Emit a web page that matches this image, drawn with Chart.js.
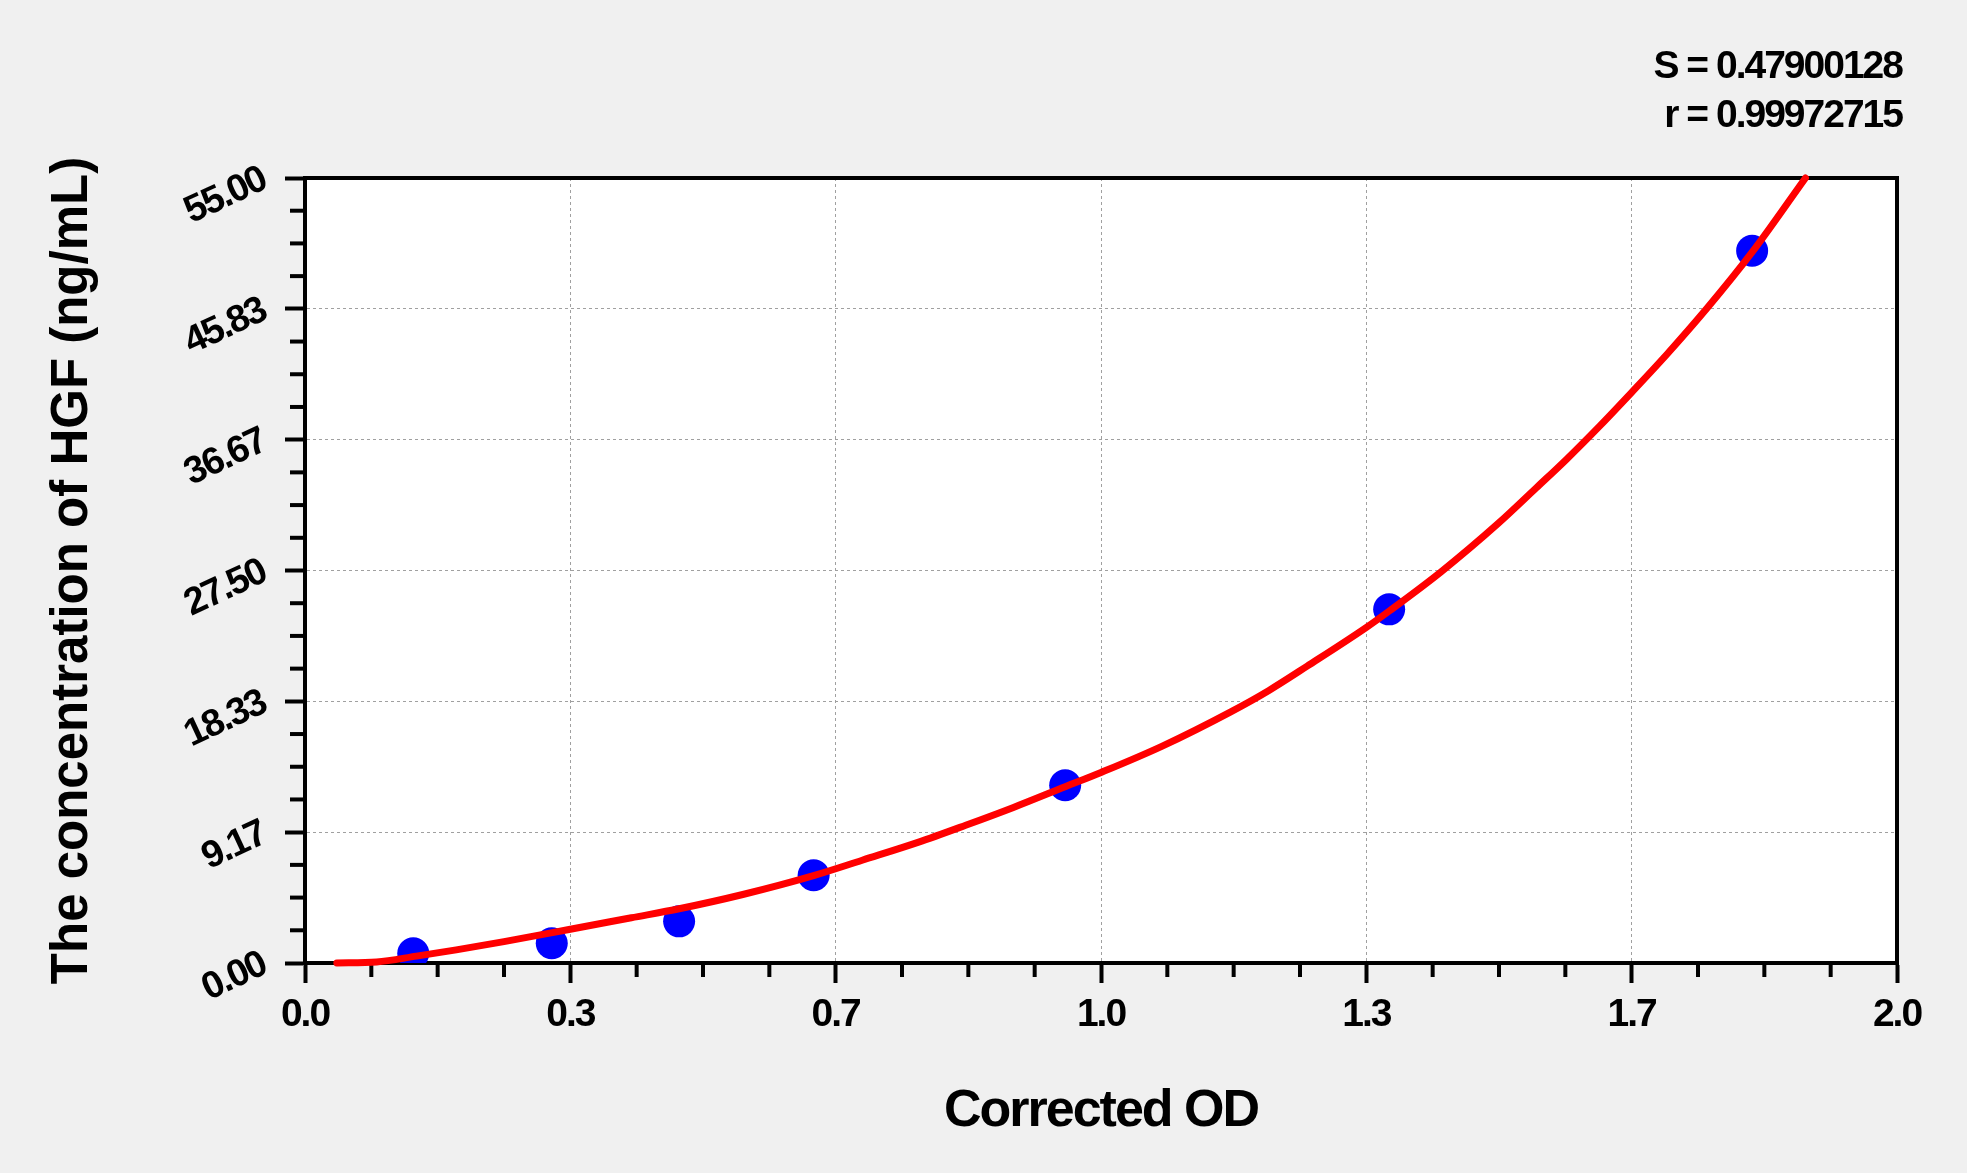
<!DOCTYPE html>
<html>
<head>
<meta charset="utf-8">
<script src="https://cdn.jsdelivr.net/npm/chart.js@4.4.0/dist/chart.umd.min.js"></script>
<style>
  html, body { margin: 0; padding: 0; background: #f0f0f0; }
  #wrap { width: 1967px; height: 1173px; position: relative; }
</style>
</head>
<body>
<div id="wrap"><canvas id="chart"></canvas></div>
<script>
// Standards (corrected OD vs concentration)
const stdOD = [0.136, 0.310, 0.470, 0.639, 0.955, 1.362, 1.818];
const stdConc = [0.68, 1.38, 2.92, 6.15, 12.45, 24.78, 49.9];

// Fitted curve
const fitOD = [0.04, 0.09, 0.14, 0.19, 0.25, 0.33, 0.41, 0.47, 0.55, 0.64, 0.70, 0.77, 0.83, 0.89, 0.955, 1.00, 1.077, 1.163, 1.211, 1.259, 1.333, 1.363, 1.427, 1.499, 1.547, 1.585, 1.627, 1.667, 1.711, 1.761, 1.818, 1.885];
const fitConc = [0.0, 0.07, 0.48, 0.92, 1.5, 2.33, 3.17, 3.8, 4.8, 6.14, 7.2, 8.45, 9.65, 10.9, 12.35, 13.35, 15.2, 17.6, 19.1, 20.8, 23.5, 24.7, 27.4, 30.8, 33.3, 35.3, 37.65, 40.0, 42.65, 45.85, 49.8, 55.0];

const xTickValues = [0, 0.3333, 0.6667, 1.0, 1.3333, 1.6667, 2.0];
const xTickLabels = ['0.0', '0.3', '0.7', '1.0', '1.3', '1.7', '2.0'];
const yTickValues = [0, 9.1667, 18.3333, 27.5, 36.6667, 45.8333, 55];
const yTickLabels = ['0.00', '9.17', '18.33', '27.50', '36.67', '45.83', '55.00'];
const yTitle = 'The concentration of HGF (ng/mL)';
const fitStats = ['S = 0.47900128', 'r = 0.99972715'];

const FONT = 'Arial, "Liberation Sans", sans-serif';

// background, plot frame, minor ticks, y title and the fit statistics
const frame = {
    id: 'frame',
    beforeDraw(chart) {
        const { ctx, chartArea: a } = chart;
        ctx.save();
        ctx.fillStyle = '#f0f0f0';
        ctx.fillRect(0, 0, chart.width, chart.height);
        ctx.fillStyle = '#ffffff';
        ctx.fillRect(a.left, a.top, a.right - a.left, a.bottom - a.top);
        ctx.restore();
        // the original text is set a little tight
        ctx.letterSpacing = '-2px';
    },
    beforeDatasetsDraw(chart) {
        const { ctx, chartArea: a, scales: { x, y } } = chart;
        ctx.save();
        ctx.strokeStyle = '#000';
        ctx.lineWidth = 4;
        ctx.strokeRect(a.left, a.top, a.right - a.left, a.bottom - a.top);

        for (let i = 0; i < xTickValues.length - 1; i++) {
            for (let k = 1; k < 4; k++) {
                const v = xTickValues[i] + (xTickValues[i + 1] - xTickValues[i]) * k / 4;
                const px = x.getPixelForValue(v);
                ctx.beginPath();
                ctx.moveTo(px, a.bottom);
                ctx.lineTo(px, a.bottom + 14);
                ctx.stroke();
            }
        }
        for (let i = 0; i < yTickValues.length - 1; i++) {
            for (let k = 1; k < 4; k++) {
                const v = yTickValues[i] + (yTickValues[i + 1] - yTickValues[i]) * k / 4;
                const py = y.getPixelForValue(v);
                ctx.beginPath();
                ctx.moveTo(a.left, py);
                ctx.lineTo(a.left - 15, py);
                ctx.stroke();
            }
        }
        ctx.restore();
    },
    afterDraw(chart) {
        const { ctx, chartArea: a } = chart;
        ctx.save();
        ctx.fillStyle = '#000';

        ctx.letterSpacing = '0px';
        ctx.font = 'bold 51px ' + FONT;
        ctx.textAlign = 'center';
        ctx.textBaseline = 'middle';
        ctx.translate(73, (a.top + a.bottom) / 2);
        ctx.rotate(-Math.PI / 2);
        ctx.fillText(yTitle, 0, 0);
        ctx.restore();

        ctx.save();
        ctx.fillStyle = '#000';
        ctx.font = 'bold 39px ' + FONT;
        ctx.textAlign = 'right';
        ctx.textBaseline = 'alphabetic';
        ctx.letterSpacing = '-2px';
        ctx.fillText(fitStats[0], 1902, 78);
        ctx.fillText(fitStats[1], 1902, 127);
        ctx.restore();
    }
};

const ctx = document.getElementById('chart').getContext('2d');
new Chart(ctx, {
    type: 'scatter',
    data: {
        datasets: [
            {
                label: 'fit',
                data: fitOD.map((v, i) => ({ x: v, y: fitConc[i] })),
                showLine: true,
                borderColor: '#ff0000',
                borderWidth: 7,
                borderCapStyle: 'round',
                borderJoinStyle: 'round',
                cubicInterpolationMode: 'monotone',
                pointRadius: 0,
                clip: false,
                order: 0
            },
            {
                label: 'standards',
                data: stdOD.map((v, i) => ({ x: v, y: stdConc[i] })),
                showLine: false,
                backgroundColor: '#0000ff',
                pointRadius: 16,
                pointBorderWidth: 0,
                order: 1
            }
        ]
    },
    options: {
        responsive: true,
        maintainAspectRatio: false,
        animation: false,
        layout: { padding: { left: 0, top: 178, right: 70, bottom: 0 } },
        plugins: {
            legend: { display: false },
            tooltip: { enabled: false }
        },
        scales: {
            x: {
                type: 'linear',
                min: 0,
                max: 2,
                afterBuildTicks: s => { s.ticks = xTickValues.map(v => ({ value: v })); },
                afterFit: s => { s.height = 210; },
                ticks: {
                    callback: (v, i) => xTickLabels[i],
                    color: '#000',
                    font: { family: FONT, size: 39, weight: 'bold' },
                    padding: 9,
                    maxRotation: 0,
                    autoSkip: false
                },
                grid: { color: '#a0a0a0', lineWidth: 1, tickColor: '#000', tickWidth: 4, tickLength: 20 },
                border: { display: true, color: '#000', width: 4, dash: [3, 3] },
                title: {
                    display: true,
                    text: 'Corrected OD',
                    color: '#000',
                    font: { family: FONT, size: 52, weight: 'bold' },
                    padding: { top: 0, bottom: 30 }
                }
            },
            y: {
                type: 'linear',
                min: 0,
                max: 55,
                afterBuildTicks: s => { s.ticks = yTickValues.map(v => ({ value: v })); },
                afterFit: s => { s.width = 305; },
                ticks: {
                    callback: (v, i) => yTickLabels[i],
                    color: '#000',
                    font: { family: FONT, size: 38, weight: 'bold' },
                    padding: 21,
                    minRotation: 25,
                    maxRotation: 25,
                    autoSkip: false
                },
                grid: { color: '#a0a0a0', lineWidth: 1, tickColor: '#000', tickWidth: 4, tickLength: 20 },
                border: { display: true, color: '#000', width: 4, dash: [3, 3] },
                title: { display: false }
            }
        }
    },
    plugins: [frame]
});
</script>
</body>
</html>
